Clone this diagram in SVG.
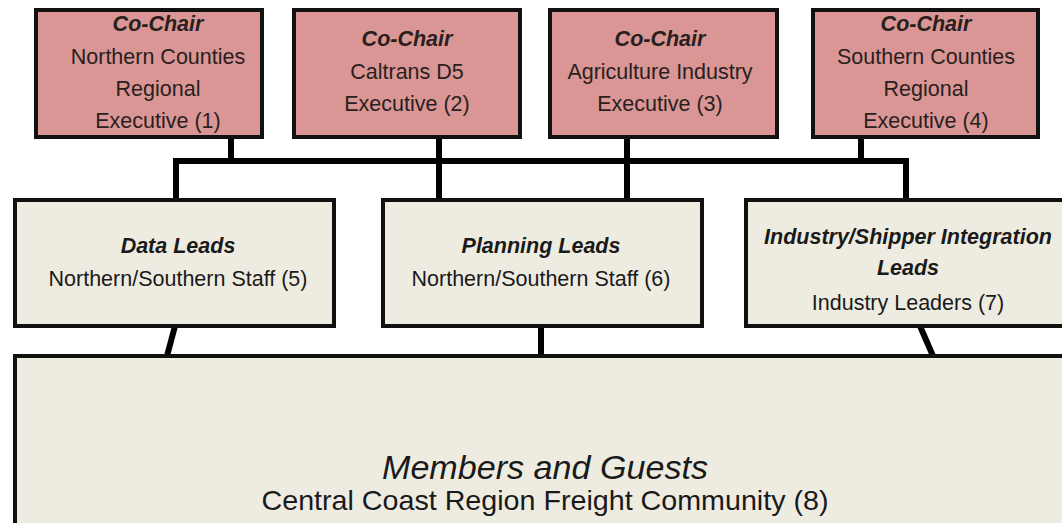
<svg xmlns="http://www.w3.org/2000/svg" width="1062" height="523" viewBox="0 0 1062 523">
<style>
.top{fill:#d99694;stroke:#111;stroke-width:4}
.mid{fill:#eeece1;stroke:#111;stroke-width:4}
.ln{stroke:#000;stroke-width:6;fill:none;stroke-linecap:square}
text{font-family:"Liberation Sans",Arial,sans-serif;text-anchor:middle;font-size:21.5px}
.tt{fill:#2a1e1e}
.mt{fill:#1a1a1a}
.h{font-weight:bold;font-style:italic}
</style>
<rect width="1062" height="523" fill="#ffffff"/>
<g id="connectors">
<line class="ln" x1="231" y1="137" x2="231" y2="161"/>
<line class="ln" x1="439" y1="137" x2="439" y2="161"/>
<line class="ln" x1="627" y1="137" x2="627" y2="161"/>
<line class="ln" x1="861" y1="137" x2="861" y2="161"/>
<line class="ln" x1="176" y1="161" x2="906" y2="161"/>
<line class="ln" x1="176" y1="161" x2="176" y2="200"/>
<line class="ln" x1="439" y1="161" x2="439" y2="200"/>
<line class="ln" x1="627" y1="161" x2="627" y2="200"/>
<line class="ln" x1="906" y1="161" x2="906" y2="200"/>
<line class="ln" x1="175" y1="326" x2="167" y2="356" style="stroke-linecap:butt"/>
<line class="ln" x1="541" y1="326" x2="541" y2="356" style="stroke-linecap:butt"/>
<line class="ln" x1="920" y1="326" x2="933" y2="356" style="stroke-linecap:butt"/>
</g>
<g id="cochair1">
<rect class="top" x="36" y="10" width="226" height="127"/>
<text class="tt h" x="158" y="31">Co-Chair</text>
<text class="tt" x="158" y="64">Northern Counties</text>
<text class="tt" x="158" y="96">Regional</text>
<text class="tt" x="158" y="128">Executive (1)</text>
</g>
<g id="cochair2">
<rect class="top" x="294" y="10" width="226" height="127"/>
<text class="tt h" x="407" y="46">Co-Chair</text>
<text class="tt" x="407" y="79">Caltrans D5</text>
<text class="tt" x="407" y="111">Executive (2)</text>
</g>
<g id="cochair3">
<rect class="top" x="550" y="10" width="227" height="127"/>
<text class="tt h" x="660" y="46">Co-Chair</text>
<text class="tt" x="660" y="79">Agriculture Industry</text>
<text class="tt" x="660" y="111">Executive (3)</text>
</g>
<g id="cochair4">
<rect class="top" x="813" y="10" width="225" height="127"/>
<text class="tt h" x="926" y="31">Co-Chair</text>
<text class="tt" x="926" y="64">Southern Counties</text>
<text class="tt" x="926" y="96">Regional</text>
<text class="tt" x="926" y="128">Executive (4)</text>
</g>
<g id="data-leads">
<rect class="mid" x="15" y="200" width="319" height="126"/>
<text class="mt h" x="178" y="253">Data Leads</text>
<text class="mt" x="178" y="286">Northern/Southern Staff (5)</text>
</g>
<g id="planning-leads">
<rect class="mid" x="383" y="200" width="319" height="126"/>
<text class="mt h" x="541" y="253">Planning Leads</text>
<text class="mt" x="541" y="286">Northern/Southern Staff (6)</text>
</g>
<g id="industry-leads">
<rect class="mid" x="746" y="200" width="330" height="126"/>
<text class="mt h" x="908" y="244">Industry/Shipper Integration</text>
<text class="mt h" x="908" y="275">Leads</text>
<text class="mt" x="908" y="310">Industry Leaders (7)</text>
</g>
<g id="members">
<rect class="mid" x="15" y="356" width="1070" height="200"/>
<text class="mt" x="545" y="479" style="font-style:italic;font-size:33px" textLength="326" lengthAdjust="spacingAndGlyphs">Members and Guests</text>
<text class="mt" x="545" y="510" style="font-size:28px" textLength="567" lengthAdjust="spacingAndGlyphs">Central Coast Region Freight Community (8)</text>
</g>
</svg>
